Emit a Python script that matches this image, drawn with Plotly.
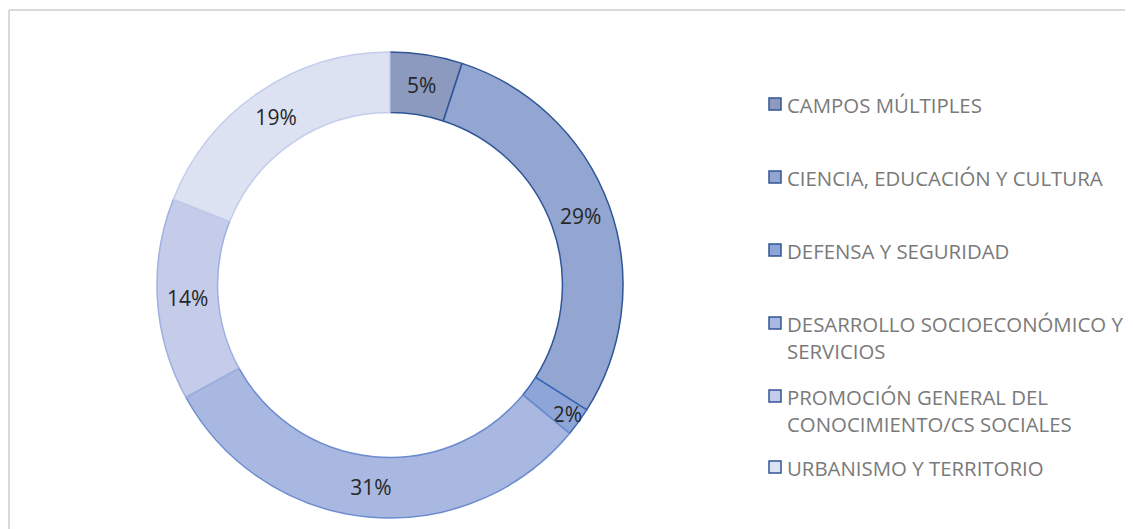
import plotly.graph_objects as go

categories = ["CAMPOS MÚLTIPLES", "CIENCIA, EDUCACIÓN Y CULTURA", "DEFENSA Y SEGURIDAD",
              "DESARROLLO SOCIOECONÓMICO Y SERVICIOS",
              "PROMOCIÓN GENERAL DEL CONOCIMIENTO/CS SOCIALES", "URBANISMO Y TERRITORIO"]
legend_labels = ["CAMPOS MÚLTIPLES", "CIENCIA, EDUCACIÓN Y CULTURA", "DEFENSA Y SEGURIDAD",
                 "DESARROLLO SOCIOECONÓMICO Y<br>SERVICIOS",
                 "PROMOCIÓN GENERAL DEL<br>CONOCIMIENTO/CS SOCIALES", "URBANISMO Y TERRITORIO"]
values = [5, 29, 2, 31, 14, 19]

fill_colors = ["#8C9ABF", "#93A6D1", "#8EA5D8", "#A9B8E0", "#C4CCE9", "#DDE2F2"]
line_colors = ["#2F5597", "#2F5597", "#3A66B8", "#6C8CD0", "#9FB1DF", "#C3CDEB"]

# page has an 8px body margin, so the figure is laid out in page coords minus 8
W, H = 1125, 521
off = 8
cx, cy, r = 390 - off, 285 - off, 233

fig = go.Figure()
fig.add_trace(go.Pie(
    labels=categories, values=values, sort=False, direction="clockwise", rotation=0,
    hole=0.74,
    marker=dict(colors=fill_colors, line=dict(color=line_colors, width=1.5)),
    texttemplate="%{percent:.0%}", textposition="inside", insidetextorientation="horizontal",
    textfont=dict(family="Open Sans, Liberation Sans, sans-serif", size=21, color="#262626"),
    showlegend=False,
    domain=dict(x=[(cx - r) / W, (cx + r) / W], y=[1 - (cy + r) / H, 1 - (cy - r) / H]),
))

# legend drawn by hand (Excel style spacing)
leg_y = [104, 177, 250, 323, 396, 467]
shapes = []
annotations = []
for i, lab in enumerate(legend_labels):
    y = leg_y[i] - off
    shapes.append(dict(type="rect", xref="paper", yref="paper",
                       x0=(769 - off) / W, x1=(781 - off) / W, y0=1 - (y + 6) / H, y1=1 - (y - 6) / H,
                       fillcolor=fill_colors[i], line=dict(color="#2F5597", width=1.5)))
    annotations.append(dict(x=(785 - off) / W, y=1 - (y - 15) / H, xref="paper", yref="paper",
                            text=lab, showarrow=False, xanchor="left", yanchor="top",
                            align="left",
                            font=dict(family="Open Sans, Liberation Sans, sans-serif",
                                      size=20.4, color="#7A7A7A")))

# chart area border (top and left visible)
shapes.append(dict(type="line", xref="paper", yref="paper", x0=1 / W, x1=1.0,
                   y0=1 - 2 / H, y1=1 - 2 / H, line=dict(color="#D9D9D9", width=2)))
shapes.append(dict(type="line", xref="paper", yref="paper", x0=1 / W, x1=1 / W,
                   y0=0, y1=1 - 2 / H, line=dict(color="#D9D9D9", width=2)))

fig.update_layout(
    width=W, height=H, margin=dict(l=0, r=0, t=0, b=0),
    paper_bgcolor="white", plot_bgcolor="white",
    uniformtext=dict(mode="show", minsize=21),
    shapes=shapes, annotations=annotations,
)

fig.write_html("out.html")
